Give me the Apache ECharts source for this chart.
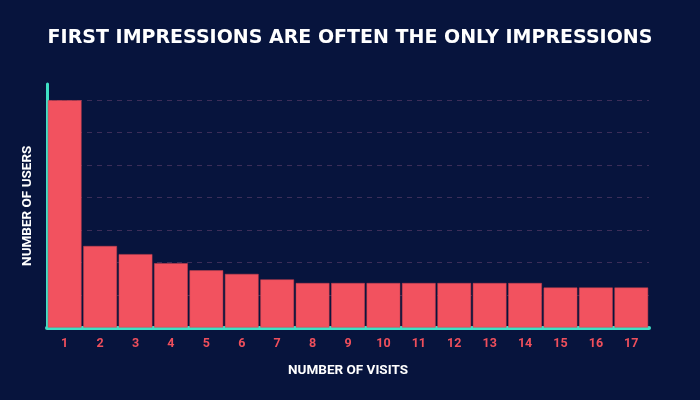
<!DOCTYPE html>
<html>
<head>
<meta charset="utf-8">
<script src="https://cdn.jsdelivr.net/npm/echarts@6/dist/echarts.min.js"></script>
<style>
html,body{margin:0;padding:0;background:#07143d;}
#c{width:700px;height:400px;}
</style>
</head>
<body>
<div id="c"></div>
<script>
const categories = ['1','2','3','4','5','6','7','8','9','10','11','12','13','14','15','16','17'];
const users = [7.0, 2.51, 2.26, 1.98, 1.76, 1.65, 1.48, 1.37, 1.37, 1.37, 1.37, 1.37, 1.37, 1.37, 1.23, 1.23, 1.23];

const chart = echarts.init(document.getElementById('c'));
chart.setOption({
  backgroundColor: '#07143d',
  animation: false,
  title: {
    text: 'FIRST IMPRESSIONS ARE OFTEN THE ONLY IMPRESSIONS',
    left: 'center',
    top: 24,
    textStyle: {color: '#ffffff', fontFamily: 'DejaVu Sans', fontWeight: 'bold', fontSize: 19}
  },
  grid: {left: 47, right: 51, top: 84, bottom: 72.5, containLabel: false},
  xAxis: {
    type: 'category',
    data: categories,
    name: 'NUMBER OF VISITS',
    nameLocation: 'middle',
    nameGap: 36,
    nameTextStyle: {color: '#ffffff', fontFamily: 'Roboto', fontWeight: 'bold', fontSize: 13.5},
    axisLine: {show: true, lineStyle: {color: '#3fe0c5', width: 4}},
    axisTick: {show: false},
    axisLabel: {color: '#ef4f5c', fontFamily: 'Roboto', fontWeight: 'bold', fontSize: 12.5, margin: 10}
  },
  yAxis: {
    type: 'value',
    min: 0,
    max: 7.5,
    interval: 1,
    name: 'NUMBER OF USERS',
    nameLocation: 'middle',
    nameGap: 12,
    nameTextStyle: {color: '#ffffff', fontFamily: 'Roboto', fontWeight: 'bold', fontSize: 13.5},
    axisLine: {show: true, lineStyle: {color: '#3fe0c5', width: 3}},
    axisTick: {show: false},
    axisLabel: {show: false},
    splitLine: {show: true, showMaxLine: false, showMinLine: false, lineStyle: {color: '#3b2d58', type: [5, 5], width: 1}}
  },
  series: [{
    type: 'bar',
    data: users,
    barCategoryGap: '5%',
    itemStyle: {color: '#f2525f', borderColor: '#c9404f', borderWidth: 0.5}
  }]
});
</script>
</body>
</html>
